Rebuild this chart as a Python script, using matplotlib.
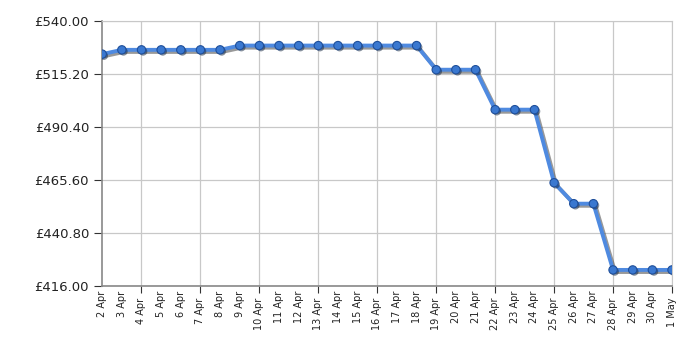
import matplotlib
matplotlib.use("Agg")
import matplotlib.pyplot as plt
import matplotlib.patheffects as pe

# price history, 2 Apr - 1 May
days = ["2 Apr", "3 Apr", "4 Apr", "5 Apr", "6 Apr", "7 Apr", "8 Apr", "9 Apr",
        "10 Apr", "11 Apr", "12 Apr", "13 Apr", "14 Apr", "15 Apr", "16 Apr",
        "17 Apr", "18 Apr", "19 Apr", "20 Apr", "21 Apr", "22 Apr", "23 Apr",
        "24 Apr", "25 Apr", "26 Apr", "27 Apr", "28 Apr", "29 Apr", "30 Apr", "1 May"]
prices = [524.5, 526.5, 526.5, 526.5, 526.5, 526.5, 526.5, 528.5,
          528.5, 528.5, 528.5, 528.5, 528.5, 528.5, 528.5,
          528.5, 528.5, 517.2, 517.2, 517.2, 498.5, 498.5,
          498.5, 464.3, 454.5, 454.5, 423.5, 423.5, 423.5, 423.5]
y_ticks = [416.0, 440.8, 465.6, 490.4, 515.2, 540.0]

fig = plt.figure(figsize=(7, 3.5), dpi=100)
ax = fig.add_axes([0.146, 0.183, 0.814, 0.757])

x = list(range(len(days)))
ax.plot(x, prices, color="#4f8ae0", lw=2.8, zorder=3,
        path_effects=[pe.SimpleLineShadow(offset=(1.5, -1.5), shadow_color="#555555", alpha=0.6),
                      pe.Normal()])
ax.plot(x, prices, ls="none", marker="o", ms=6, mfc="#3a78d0", mec="#1f4f9a", mew=0.8,
        zorder=4, path_effects=[pe.SimplePatchShadow(offset=(1.2, -1.2), alpha=0.5), pe.Normal()])

ax.set_xlim(0, len(days) - 1)
ax.set_ylim(y_ticks[0], y_ticks[-1])
ax.set_yticks(y_ticks, [f"£{v:.2f}" for v in y_ticks])

# gridline / tick every third day counted back from the last one
major = [i for i in x if (len(days) - 1 - i) % 3 == 0]
minor = [i for i in x if i not in major]
ax.set_xticks(major, [days[i] for i in major])
ax.set_xticks(minor, [days[i] for i in minor], minor=True)
ax.tick_params(axis="x", which="both", labelrotation=90, labelsize=7, colors="#222222")
ax.tick_params(axis="x", which="major", length=5, color="#333333")
ax.tick_params(axis="x", which="minor", length=0)
ax.tick_params(axis="y", labelsize=9.5, length=6, color="#333333", colors="#222222")

ax.grid(True, which="major", color="#c8c8c8", lw=0.9)
for side in ["top", "right"]:
    ax.spines[side].set_color("#c8c8c8")
for side in ["left", "bottom"]:
    ax.spines[side].set_color("#888888")
    ax.spines[side].set_linewidth(1.2)

fig.savefig("out.png", dpi=100)
